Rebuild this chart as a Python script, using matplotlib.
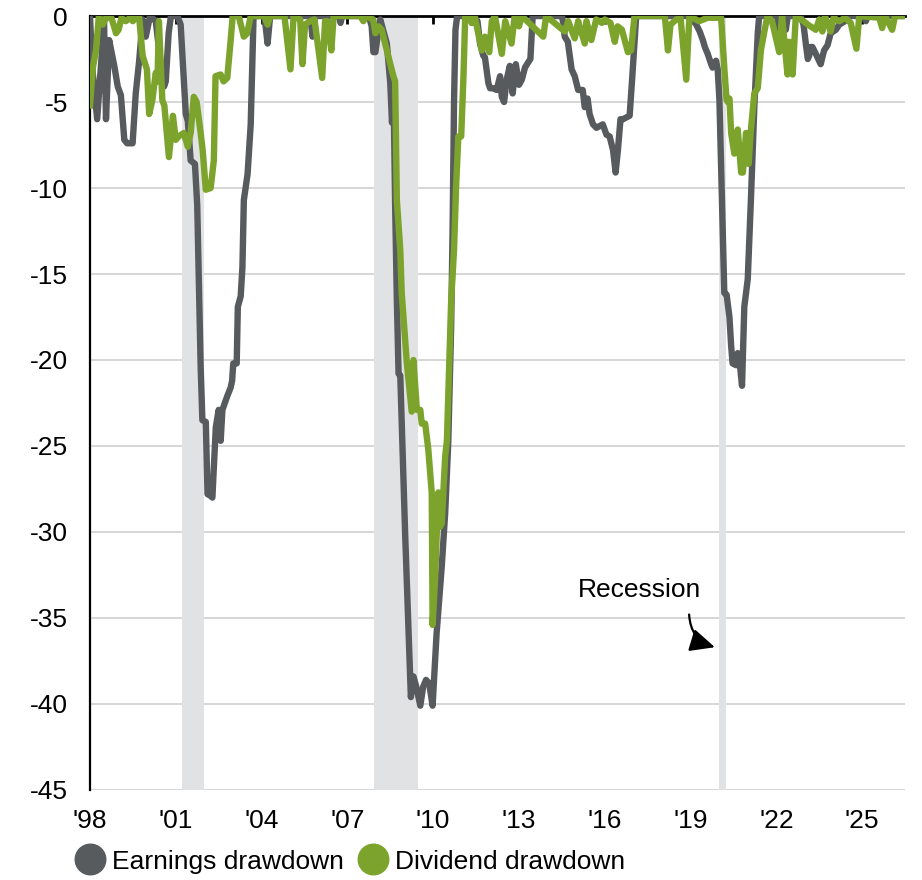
import matplotlib.pyplot as plt
from matplotlib.lines import Line2D
from matplotlib.patches import FancyArrowPatch

plt.rcParams['font.family'] = ['Liberation Sans', 'DejaVu Sans']

# earnings drawdown (%), decimal years
earn_x = [1998.00, 1998.08, 1998.25, 1998.40, 1998.49, 1998.56, 1998.67, 1998.85, 1998.97, 1999.08,
          1999.20, 1999.30, 1999.49, 1999.60, 1999.72, 1999.84, 1999.95, 2000.10, 2000.30, 2000.48,
          2000.59, 2000.65, 2000.75, 2000.83, 2001.06, 2001.17, 2001.35, 2001.42, 2001.52, 2001.67,
          2001.75, 2001.87, 2001.93, 2002.05, 2002.11, 2002.22, 2002.28, 2002.40, 2002.50, 2002.57,
          2002.63, 2002.80, 2002.92, 2002.97, 2003.01, 2003.13, 2003.17, 2003.27, 2003.33, 2003.38,
          2003.51, 2003.62, 2003.72, 2004.10, 2004.21, 2004.30, 2005.70, 2005.78, 2005.86, 2006.70,
          2006.76, 2006.82, 2007.75, 2007.85, 2007.91, 2007.98, 2008.09, 2008.15, 2008.25, 2008.38,
          2008.50, 2008.56, 2008.62, 2008.67, 2008.73, 2008.79, 2008.85, 2009.02, 2009.14, 2009.22,
          2009.31, 2009.41, 2009.55, 2009.65, 2009.75, 2009.86, 2009.98, 2010.12, 2010.30, 2010.42,
          2010.53, 2010.63, 2010.68, 2010.73, 2010.78, 2010.84, 2011.30, 2011.35, 2011.42, 2011.55,
          2011.64, 2011.75, 2011.81, 2011.93, 2011.99, 2012.10, 2012.22, 2012.34, 2012.40, 2012.48,
          2012.57, 2012.68, 2012.78, 2012.89, 2013.00, 2013.10, 2013.21, 2013.32, 2013.40, 2013.48,
          2014.50, 2014.55, 2014.60, 2014.71, 2014.84, 2014.95, 2015.07, 2015.23, 2015.30, 2015.40,
          2015.47, 2015.59, 2015.71, 2015.82, 2015.93, 2016.06, 2016.17, 2016.29, 2016.38, 2016.46,
          2016.55, 2016.64, 2016.75, 2016.87, 2016.96, 2017.10, 2019.00, 2019.08, 2019.20, 2019.32,
          2019.43, 2019.50, 2019.60, 2019.72, 2019.77, 2019.89, 2019.95, 2020.01, 2020.10, 2020.18,
          2020.26, 2020.36, 2020.42, 2020.47, 2020.59, 2020.65, 2020.71, 2020.80, 2020.88, 2021.00,
          2021.11, 2021.23, 2021.35, 2021.40, 2022.05, 2022.10, 2022.17, 2022.30, 2022.33, 2022.40,
          2022.85, 2022.95, 2023.03, 2023.10, 2023.15, 2023.20, 2023.26, 2023.38, 2023.55, 2023.67,
          2023.79, 2023.90, 2024.08, 2024.20, 2024.40, 2024.55, 2025.05, 2025.13, 2025.20, 2026.46]
earn_y = [0.0, -3.0, -6.0, -2.5, -0.2, -6.0, -1.4, -2.9, -4.1, -4.6,
          -7.2, -7.4, -7.4, -4.5, -2.6, -0.2, -1.2, 0.0, -0.3, -2.9,
          -4.1, -3.8, -1.0, 0.0, 0.0, -0.5, -5.7, -6.1, -8.4, -8.6,
          -11.0, -20.4, -23.5, -23.6, -27.8, -27.9, -28.0, -23.9, -22.9, -24.7,
          -22.9, -22.1, -21.6, -21.2, -20.2, -20.2, -16.9, -16.3, -14.6, -10.7,
          -9.2, -6.3, 0.0, 0.0, -1.6, 0.0, 0.0, -1.2, 0.0, 0.0,
          -0.4, 0.0, 0.0, -0.6, -2.1, -2.1, -0.8, -0.2, -0.8, -1.6,
          -3.9, -6.2, -5.0, -11.0, -16.5, -20.8, -20.9, -30.1, -35.9, -39.6,
          -38.4, -39.0, -40.1, -39.0, -38.6, -38.8, -40.1, -35.9, -32.0, -28.9,
          -24.7, -18.0, -12.3, -4.9, -0.8, 0.0, 0.0, -0.4, 0.0, -0.3,
          -1.6, -2.3, -2.4, -3.9, -4.2, -4.2, -4.3, -3.5, -4.7, -5.0,
          -3.7, -2.9, -4.5, -2.8, -4.0, -3.7, -3.0, -2.7, -2.5, 0.0,
          0.0, -0.4, -1.2, -1.5, -3.1, -3.5, -4.3, -4.3, -5.3, -4.8,
          -5.7, -6.3, -6.5, -6.4, -6.3, -6.9, -7.0, -7.8, -9.1, -7.8,
          -6.0, -6.0, -5.9, -5.8, -3.6, 0.0, 0.0, -0.2, -0.5, -0.9,
          -1.4, -1.8, -2.2, -2.8, -3.0, -2.6, -3.1, -4.9, -10.7, -16.1,
          -16.2, -17.5, -19.2, -20.2, -20.3, -19.6, -20.0, -21.5, -16.9, -15.3,
          -10.7, -5.3, -1.0, 0.0, 0.0, -1.4, 0.0, 0.0, -0.8, 0.0,
          0.0, -0.5, -1.6, -2.5, -2.3, -1.8, -1.8, -2.2, -2.8, -2.0,
          -1.7, -1.0, -0.8, -0.5, -0.3, 0.0, 0.0, -0.3, 0.0, 0.0]

# dividend drawdown (%), decimal years
div_x = [1998.00, 1998.10, 1998.21, 1998.31, 1998.45, 1998.56, 1998.75, 1998.91, 1999.00, 1999.10,
         1999.25, 1999.40, 1999.50, 1999.62, 1999.72, 1999.84, 1999.99, 2000.07, 2000.18, 2000.30,
         2000.36, 2000.41, 2000.53, 2000.60, 2000.76, 2000.90, 2001.00, 2001.10, 2001.28, 2001.42,
         2001.52, 2001.63, 2001.73, 2001.87, 2001.94, 2002.05, 2002.22, 2002.33, 2002.39, 2002.57,
         2002.67, 2002.80, 2002.92, 2002.99, 2003.20, 2003.38, 2003.50, 2003.62, 2004.10, 2004.21,
         2004.30, 2004.80, 2005.01, 2005.12, 2005.35, 2005.43, 2005.52, 2005.60, 2005.70, 2005.85,
         2006.12, 2006.22, 2006.30, 2006.44, 2006.52, 2007.45, 2007.56, 2007.65, 2007.90, 2007.98,
         2008.09, 2008.20, 2008.38, 2008.61, 2008.67, 2008.73, 2008.85, 2008.90, 2009.08, 2009.25,
         2009.31, 2009.43, 2009.55, 2009.60, 2009.72, 2009.83, 2009.95, 2009.98, 2010.07, 2010.18,
         2010.24, 2010.30, 2010.42, 2010.48, 2010.53, 2010.63, 2010.73, 2010.80, 2010.88, 2010.98,
         2011.06, 2011.12, 2011.30, 2011.35, 2011.45, 2011.70, 2011.81, 2011.96, 2012.05, 2012.16,
         2012.40, 2012.52, 2012.74, 2012.85, 2013.00, 2013.10, 2013.85, 2013.95, 2014.60, 2014.72,
         2014.95, 2015.07, 2015.30, 2015.36, 2015.53, 2015.70, 2015.90, 2016.00, 2016.20, 2016.35,
         2016.45, 2016.60, 2016.81, 2016.92, 2017.04, 2018.10, 2018.21, 2018.30, 2018.50, 2018.65,
         2018.85, 2018.96, 2019.30, 2019.60, 2020.07, 2020.18, 2020.26, 2020.31, 2020.36, 2020.42,
         2020.53, 2020.65, 2020.77, 2020.83, 2020.94, 2021.03, 2021.10, 2021.23, 2021.35, 2021.46,
         2021.58, 2021.69, 2021.85, 2022.10, 2022.20, 2022.39, 2022.45, 2022.57, 2022.68, 2022.95,
         2023.10, 2023.38, 2023.50, 2023.61, 2023.70, 2023.90, 2024.00, 2024.20, 2024.40, 2024.60,
         2024.80, 2024.90, 2025.60, 2025.70, 2025.80, 2026.05, 2026.15, 2026.46]
div_y = [-5.2, -3.0, -2.0, 0.0, -0.5, -0.1, -0.1, -1.0, -0.8, -0.1,
         -0.3, -0.1, -0.3, 0.0, -0.1, -2.3, -3.1, -5.7, -4.9, -3.3,
         -3.8, -0.3, -4.9, -5.2, -8.2, -5.8, -7.2, -7.0, -6.8, -7.6,
         -6.8, -4.7, -5.0, -6.8, -7.8, -10.1, -10.0, -8.4, -3.5, -3.4,
         -3.8, -3.6, -1.4, 0.0, 0.0, -1.2, -1.0, 0.0, 0.0, -0.5,
         0.0, 0.0, -3.1, 0.0, -0.2, -2.8, -0.5, -0.4, -0.3, -0.2,
         -3.6, -0.3, -0.3, -2.0, 0.0, 0.0, -0.3, 0.0, -0.2, -1.0,
         -0.6, -0.8, -2.0, -3.5, -3.8, -10.7, -13.6, -16.1, -20.2, -23.0,
         -20.0, -22.9, -22.9, -23.7, -23.7, -25.2, -27.7, -35.4, -32.6, -27.7,
         -29.7, -29.5, -25.6, -24.7, -21.9, -16.5, -13.6, -10.0, -7.0, -7.0,
         -3.5, 0.0, 0.0, -0.4, 0.0, -2.0, -1.2, -2.1, -0.3, 0.0,
         -2.2, -0.3, -1.6, 0.0, -0.6, 0.0, -1.2, 0.0, -0.9, -0.3,
         -1.3, -0.3, -1.6, -0.3, -1.4, -0.2, -0.4, -0.2, -0.4, -1.5,
         -0.6, -0.8, -2.1, -2.0, 0.0, 0.0, -2.0, -0.5, -0.2, -0.1,
         -3.7, 0.0, -0.3, -0.1, -0.1, -3.0, -4.9, -5.0, -4.8, -6.8,
         -8.0, -6.6, -9.1, -9.1, -6.8, -8.6, -6.8, -4.5, -4.2, -2.0,
         -0.9, 0.0, -0.3, -2.1, 0.0, -3.4, -1.5, -3.4, 0.0, -0.3,
         -0.5, -0.8, -0.2, -0.9, 0.0, -0.9, -0.1, -0.3, -0.1, -0.4,
         -1.9, 0.0, -0.1, -0.7, 0.0, -0.8, 0.0, 0.0]

recessions = [(2001.21, 2001.98), (2007.92, 2009.48), (2020.0, 2020.25)]
year_ticks = [1998, 2001, 2004, 2007, 2010, 2013, 2016, 2019, 2022, 2025]
year_labels = ["'98", "'01", "'04", "'07", "'10", "'13", "'16", "'19", "'22", "'25"]

GRAY = '#585b5e'
GREEN = '#7ca42c'

fig = plt.figure(figsize=(9.22, 8.8), dpi=100)
ax = fig.add_axes([0.0976, 0.1023, 0.884, 0.8795])

for start, end in recessions:
    ax.axvspan(start, end, color='#e1e2e4', lw=0, zorder=1)

ax.plot(earn_x, earn_y, color=GRAY, lw=4.6, zorder=3, solid_joinstyle='round')
ax.plot(div_x, div_y, color=GREEN, lw=4.6, zorder=4, solid_joinstyle='round')

ax.set_xlim(1998, 2026.5)
ax.set_ylim(-45, 0)
ax.set_yticks(range(-45, 1, 5))
ax.set_yticklabels([str(v) for v in range(-45, 1, 5)])
ax.set_xticks(year_ticks)
ax.set_xticklabels(year_labels)

ax.yaxis.grid(True, color='#cfcfcf', lw=1.2)
ax.set_axisbelow(True)
ax.tick_params(axis='y', length=0, pad=16, labelsize=19)
ax.tick_params(axis='x', top=True, bottom=False, direction='in', length=6, width=2,
               pad=14, labelsize=19, labelbottom=True, labeltop=False)

for side in ['right', 'bottom']:
    ax.spines[side].set_visible(False)
ax.spines['top'].set_linewidth(2)
ax.spines['top'].set_zorder(2)
ax.spines['left'].set_linewidth(1.6)

ax.text(2017.2, -33.4, 'Recession', ha='center', va='center', fontsize=19)
arrow = FancyArrowPatch((2018.95, -34.8), (2019.85, -36.7),
                        connectionstyle='arc3,rad=0.35',
                        arrowstyle='-|>,head_length=0.75,head_width=0.35',
                        mutation_scale=20, lw=1.6, color='black', zorder=5,
                        shrinkA=0, shrinkB=0)
ax.add_patch(arrow)

handles = [Line2D([], [], ls='none', marker='o', markersize=22, color=GRAY),
           Line2D([], [], ls='none', marker='o', markersize=22, color=GREEN)]
fig.legend(handles, ['Earnings drawdown', 'Dividend drawdown'], ncol=2,
           loc='center left', bbox_to_anchor=(0.083, 0.021), frameon=False,
           fontsize=19, handlelength=1.0, handletextpad=0.35, columnspacing=0.6,
           borderpad=0, borderaxespad=0)

fig.savefig('out.png', dpi=100)
